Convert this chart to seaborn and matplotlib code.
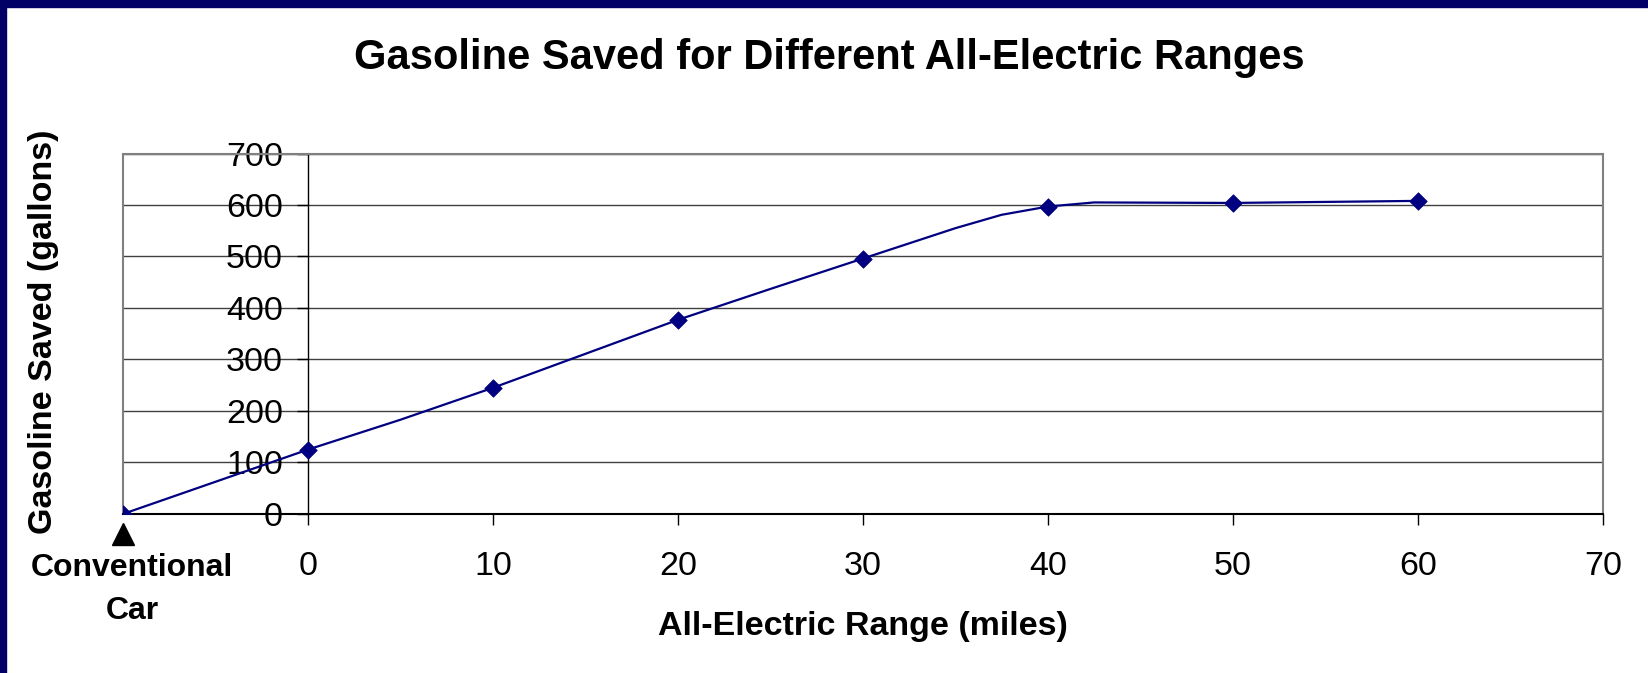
import matplotlib
matplotlib.use("Agg")
import matplotlib.pyplot as plt
from matplotlib.patches import Rectangle
import seaborn as sns

# ── data ──────────────────────────────────────────────────────
# conventional car is drawn at x = -10, left of the 0-mile tick
marker_x = [-10, 0, 10, 20, 30, 40, 50, 60]
marker_y = [0, 125, 245, 377, 496, 597, 604, 608]

# vertices of the (Excel-smoothed) connecting line
line_x = [-10, 0, 5, 10, 20, 25, 30, 35, 37.5, 40, 42.5, 50, 60]
line_y = [0, 125, 183, 245, 377, 437, 496, 555, 581, 597, 605, 604, 608]

x_ticks = [0, 10, 20, 30, 40, 50, 60, 70]
y_ticks = [0, 100, 200, 300, 400, 500, 600, 700]

TITLE = "Gasoline Saved for Different All-Electric Ranges"
XLABEL = "All-Electric Range (miles)"
YLABEL = "Gasoline Saved (gallons)"
CONV_LABEL = "Conventional\nCar"

NAVY = "#000080"

sns.set_style("white", {"text.color": "black", "axes.labelcolor": "black",
                        "xtick.color": "black", "ytick.color": "black"})
plt.rcParams["font.family"] = ["Liberation Sans", "DejaVu Sans"]

fig = plt.figure(figsize=(16.48, 6.73), dpi=100)
ax = fig.add_axes([0.0746, 0.2363, 0.898, 0.5356])

sns.lineplot(x=line_x, y=line_y, sort=False, color=NAVY, lw=1.6, ax=ax)
sns.scatterplot(x=marker_x, y=marker_y, marker="D", s=80, color=NAVY,
                edgecolor=NAVY, linewidth=0.5, zorder=5, ax=ax)

ax.set_xlim(-10, 70)
ax.set_ylim(0, 700)
ax.set_xticks(x_ticks)
ax.set_yticks(y_ticks)
ax.tick_params(axis="both", labelsize=24.5, direction="out", length=8,
               width=1, color="black", bottom=True, left=True)
ax.tick_params(axis="x", pad=19)
ax.tick_params(axis="y", pad=10)

# horizontal gridlines only
ax.yaxis.grid(True, color="#404040", lw=1)
ax.xaxis.grid(False)
ax.set_axisbelow(True)

# y axis crosses at x = 0, gray frame around the plot area
ax.spines["left"].set_position(("data", 0))
ax.spines["left"].set_color("black")
ax.spines["left"].set_linewidth(1)
ax.spines["bottom"].set_color("black")
ax.spines["bottom"].set_linewidth(1.5)
for s in ["top", "right"]:
    ax.spines[s].set_visible(True)
    ax.spines[s].set_color("#808080")
    ax.spines[s].set_linewidth(1.5)
ax.axvline(-10, color="#808080", lw=1.5, clip_on=False, zorder=1)

# conventional car marker + label
ax.plot([-10], [-39], marker="^", ms=16, color="black", clip_on=False)
ax.text(-9.5, -147, CONV_LABEL, ha="center", va="center", fontsize=23,
        fontweight="bold", linespacing=1.55)

ax.set_xlabel(XLABEL, fontsize=24.5, fontweight="bold")
ax.set_ylabel(YLABEL, fontsize=24.5, fontweight="bold")
ax.xaxis.set_label_coords(0.5, -0.27)
ax.yaxis.set_label_coords(-0.043, 0.505)

fig.text(0.503, 1 - 58 / 673, TITLE, ha="center", va="center",
         fontsize=30, fontweight="bold")

# navy slide frame (top and left strips)
fig.add_artist(Rectangle((0, 1 - 7 / 673), 1, 7 / 673,
                         transform=fig.transFigure, color="#000066", zorder=10))
fig.add_artist(Rectangle((0, 0), 6 / 1648, 1,
                         transform=fig.transFigure, color="#000066", zorder=10))

fig.savefig("out.png", dpi=100)
